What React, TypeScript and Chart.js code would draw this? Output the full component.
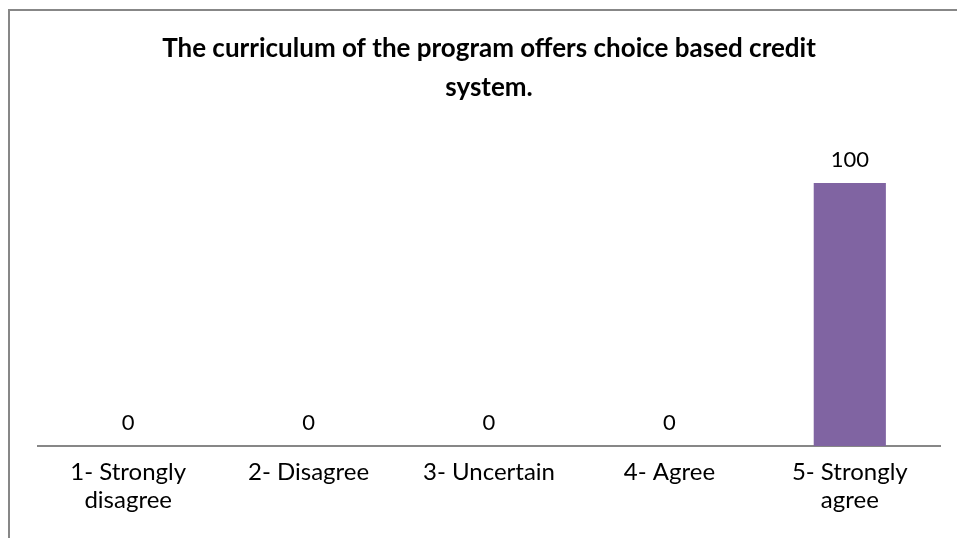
import React, { useEffect, useRef } from 'react';
import { Chart, registerables } from 'chart.js';

Chart.register(...registerables);

// ---- data ----
const categories: string[][] = [
  ['1- Strongly', 'disagree'],
  ['2- Disagree'],
  ['3- Uncertain'],
  ['4- Agree'],
  ['5- Strongly', 'agree'],
];
const values: number[] = [0, 0, 0, 0, 100];
const titleLines: string[] = [
  'The curriculum of the program offers choice based credit',
  'system.',
];
const yMax = 120;

// ---- styles ----
const FONT = 'Lato';
const BAR_COLOR = '#8064A2';
const AXIS_COLOR = '#878787';

const framePlugin = {
  id: 'frame',
  beforeDraw(chart: any) {
    const { ctx, width, height } = chart;
    ctx.save();
    ctx.fillStyle = '#ffffff';
    ctx.fillRect(0, 0, width, height);
    ctx.strokeStyle = AXIS_COLOR;
    ctx.lineWidth = 2;
    ctx.beginPath();
    ctx.moveTo(9, height + 5);
    ctx.lineTo(9, 10);
    ctx.lineTo(width + 5, 10);
    ctx.stroke();
    ctx.restore();
  },
};

const dataLabelPlugin = {
  id: 'dataLabels',
  afterDatasetsDraw(chart: any) {
    const { ctx } = chart;
    const meta = chart.getDatasetMeta(0);
    const data = chart.data.datasets[0].data;
    ctx.save();
    ctx.font = `22px ${FONT}`;
    ctx.fillStyle = '#000000';
    ctx.textAlign = 'center';
    ctx.textBaseline = 'alphabetic';
    meta.data.forEach((el: any, i: number) => {
      ctx.fillText(String(data[i]), el.x, el.y - 16);
    });
    ctx.restore();
  },
};

export default function App() {
  const ref = useRef<HTMLCanvasElement | null>(null);

  useEffect(() => {
    document.body.style.margin = '0';
    const canvas = ref.current;
    if (!canvas) return;
    const chart = new Chart(canvas, {
      type: 'bar',
      data: {
        labels: categories as any,
        datasets: [
          {
            data: values,
            backgroundColor: BAR_COLOR,
            borderWidth: 0,
            categoryPercentage: 0.5,
            barPercentage: 0.8,
          },
        ],
      },
      options: {
        responsive: false,
        animation: false,
        devicePixelRatio: 1,
        layout: { padding: { left: 38, right: 17, top: 0, bottom: 12 } },
        plugins: {
          legend: { display: false },
          tooltip: { enabled: false },
          title: {
            display: true,
            text: titleLines,
            color: '#000000',
            font: { family: FONT, size: 26, weight: 'bold', lineHeight: '39px' as any },
            padding: { top: 29, bottom: 23.4 },
          },
        },
        scales: {
          x: {
            grid: { display: false, drawTicks: false },
            border: { display: true, color: AXIS_COLOR, width: 2 },
            ticks: {
              color: '#000000',
              font: { family: FONT, size: 24, lineHeight: '28px' as any },
              padding: 12,
              autoSkip: false,
              maxRotation: 0,
            },
          },
          y: {
            display: false,
            min: 0,
            max: yMax,
          },
        },
      },
      plugins: [framePlugin, dataLabelPlugin],
    });
    return () => chart.destroy();
  }, []);

  return (
    <div style={{ position: 'absolute', left: 0, top: 0, width: 957, height: 538 }}>
      <canvas ref={ref} width={957} height={538} style={{ display: 'block' }} />
    </div>
  );
}
